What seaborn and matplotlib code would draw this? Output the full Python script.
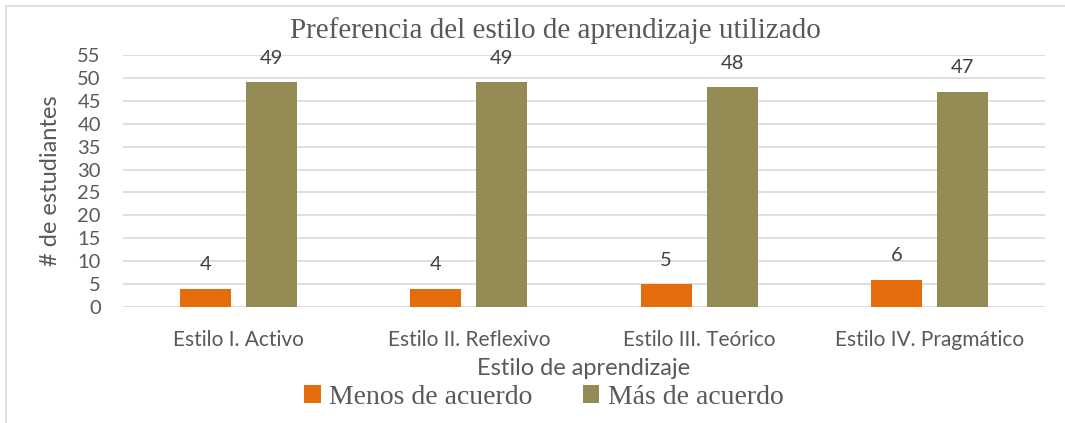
import matplotlib
matplotlib.use("Agg")
import matplotlib.pyplot as plt
import seaborn as sns
import pandas as pd
from matplotlib.patches import Rectangle, Patch

categories = ["Estilo I. Activo", "Estilo II. Reflexivo", "Estilo III. Teórico", "Estilo IV. Pragmático"]
series_names = ["Menos de acuerdo", "Más de acuerdo"]
menos = [4, 4, 5, 6]
mas = [49, 49, 48, 47]
yticks = [0, 5, 10, 15, 20, 25, 30, 35, 40, 45, 50, 55]
title = "Preferencia del estilo de aprendizaje utilizado"
xlabel = "Estilo de aprendizaje"
ylabel = "# de estudiantes"
colors = ["#E46C0A", "#948A54"]

df = pd.DataFrame({
    "cat": categories * 2,
    "serie": [series_names[0]] * 4 + [series_names[1]] * 4,
    "val": menos + mas,
})

sns.set_theme(style="white")
plt.rcParams["font.family"] = ["Lato", "DejaVu Sans"]

W, H = 1065, 423
fig = plt.figure(figsize=(W / 100, H / 100), dpi=100)
fig.patch.set_facecolor("white")
fig.patches.append(Rectangle((6 / W, -0.1), 1.2, 1 - 6 / H + 0.1, transform=fig.transFigure,
                             fill=False, edgecolor="#D9D9D9", linewidth=1.2))

ax = fig.add_axes([123 / W, 1 - 307 / H, (1045 - 123) / W, (307 - 55) / H])
sns.barplot(data=df, x="cat", y="val", hue="serie", palette=colors, width=0.573, gap=0.23,
            ax=ax, legend=False, saturation=1, edgecolor="none")

ax.set_xlim(-0.5, 3.5)
ax.set_ylim(0, 55)
ax.set_yticks(yticks)
ax.yaxis.grid(True, color="#D9D9D9", linewidth=1.2)
ax.set_axisbelow(True)
for s in ax.spines.values():
    s.set_visible(False)
ax.tick_params(axis="y", length=0, pad=16, labelsize=14.5, labelcolor="#595959")
ax.tick_params(axis="x", length=0, pad=16.5, labelsize=15, labelcolor="#595959")

for cont in ax.containers:
    ax.bar_label(cont, padding=11, fontsize=14.5, color="#404040")

ax.set_xlabel(xlabel, fontsize=17, color="#595959", labelpad=6)
ax.set_ylabel(ylabel, fontsize=17, color="#595959")
ax.yaxis.set_label_coords(-(123 - 51) / (1045 - 123), 0.5)
ax.xaxis.set_label_coords(0.5, -(368 - 307) / (307 - 55))
ax.xaxis.label.set_va("center")
ax.yaxis.label.set_va("center")

fig.text(555 / W, 1 - 31 / H, title, ha="center", va="center", fontsize=21,
         family=["Liberation Serif"], color="#595959")

handles = [Patch(facecolor=c, edgecolor="none") for c in colors]
fig.legend(handles, series_names, loc="center", bbox_to_anchor=(544 / W, 1 - 397 / H), ncol=2,
           frameon=False, prop={"family": "Liberation Serif", "size": 20},
           labelcolor="#595959", handlelength=0.6, handleheight=0.6, handletextpad=0.3,
           columnspacing=1.8)

fig.savefig("out.png", dpi=100)
